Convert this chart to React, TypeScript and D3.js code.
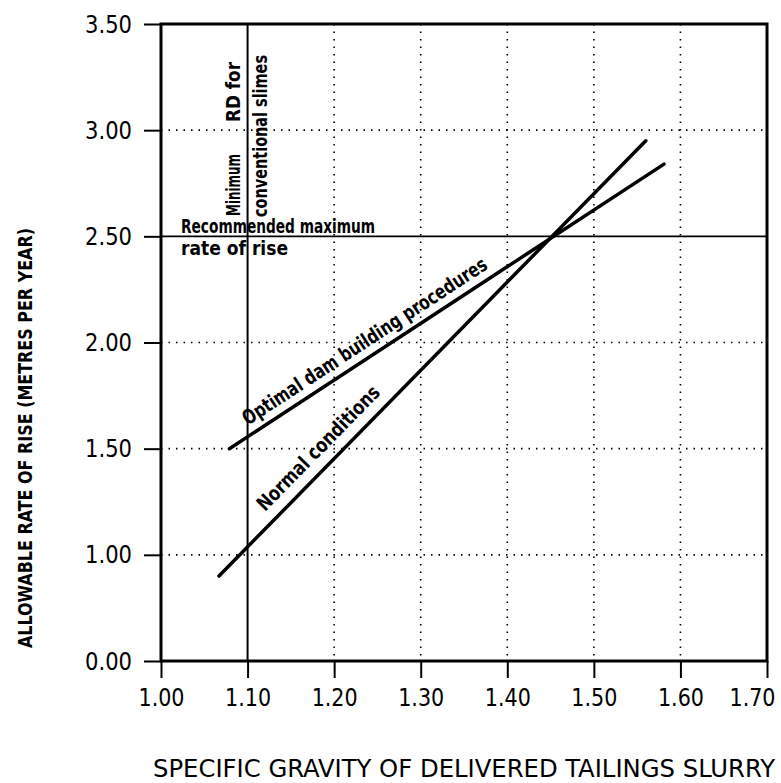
import { useEffect, useRef } from 'react'
import * as d3 from 'd3'

// axis ticks
const xTicks = [1.0, 1.1, 1.2, 1.3, 1.4, 1.5, 1.6, 1.7]
const yTicks = [0.0, 1.0, 1.5, 2.0, 2.5, 3.0, 3.5]
const xGrid = [1.2, 1.3, 1.4, 1.5, 1.6]
const yGrid = [1.0, 1.5, 2.0, 3.0]

// curves (specific gravity vs allowable rate of rise)
const normalX = [1.067, 1.56]
const normalY = [0.8, 2.95]
const optimalX = [1.079, 1.581]
const optimalY = [1.5, 2.84]

const minimumRD = 1.1
const maxRise = 2.5

const FONT = "'DejaVu Sans Condensed', 'DejaVu Sans', sans-serif"

function App() {
    const ref = useRef<SVGSVGElement>(null)

    useEffect(() => {
        const svg = d3.select(ref.current)
        svg.selectAll('*').remove()

        const left = 161
        const right = 767
        const top = 24
        const bottom = 661

        const xScale = d3.scaleLinear().domain([1.0, 1.7]).range([left, right])
        // broken axis: 0 -> 1 takes the same room as one 0.5 step
        const yScale = d3.scaleLinear().domain([0, 1, 3.5]).range([bottom, bottom - (bottom - top) / 6, top])

        const line = d3
            .line<[number, number]>()
            .x(d => xScale(d[0]))
            .y(d => yScale(d[1]))

        // dotted grid
        svg.append('g')
            .selectAll('line')
            .data(yGrid)
            .enter()
            .append('line')
            .attr('x1', left)
            .attr('x2', right)
            .attr('y1', d => yScale(d))
            .attr('y2', d => yScale(d))
            .style('stroke', '#000')
            .style('stroke-width', 1.6)
            .style('stroke-dasharray', '1.5 6')

        svg.append('g')
            .selectAll('line')
            .data(xGrid)
            .enter()
            .append('line')
            .attr('x1', d => xScale(d))
            .attr('x2', d => xScale(d))
            .attr('y1', top)
            .attr('y2', bottom)
            .style('stroke', '#000')
            .style('stroke-width', 1.6)
            .style('stroke-dasharray', '1.5 6')

        // reference lines
        svg.append('line')
            .attr('x1', xScale(minimumRD))
            .attr('x2', xScale(minimumRD))
            .attr('y1', top)
            .attr('y2', bottom)
            .style('stroke', '#000')
            .style('stroke-width', 2)

        svg.append('line')
            .attr('x1', left)
            .attr('x2', right)
            .attr('y1', yScale(maxRise))
            .attr('y2', yScale(maxRise))
            .style('stroke', '#000')
            .style('stroke-width', 1.6)

        // frame
        svg.append('rect')
            .attr('x', left)
            .attr('y', top)
            .attr('width', right - left)
            .attr('height', bottom - top)
            .style('fill', 'none')
            .style('stroke', '#000')
            .style('stroke-width', 3)

        // axes
        const xAxis = svg.append('g')
            .attr('transform', `translate(0, ${bottom})`)
            .call(d3.axisBottom(xScale).tickValues(xTicks).tickSize(17).tickPadding(10).tickFormat(d => d3.format('.2f')(d as number)))
        xAxis.select('.domain').remove()
        xAxis.selectAll('line').style('stroke-width', 2)
        xAxis.selectAll('text')
            .attr('fill', '#000')
            .attr('textLength', 46)
            .attr('lengthAdjust', 'spacingAndGlyphs')
            .style('font-family', FONT)
            .style('font-size', '25px')
        xAxis.selectAll<SVGTextElement, number>('text')
            .filter(d => d === 1.7)
            .attr('dx', -15)

        const yAxis = svg.append('g')
            .attr('transform', `translate(${left}, 0)`)
            .call(d3.axisLeft(yScale).tickValues(yTicks).tickSize(17).tickPadding(12).tickFormat(d => d3.format('.2f')(d as number)))
        yAxis.select('.domain').remove()
        yAxis.selectAll('line').style('stroke-width', 2)
        yAxis.selectAll('text')
            .attr('fill', '#000')
            .attr('textLength', 47)
            .attr('lengthAdjust', 'spacingAndGlyphs')
            .style('font-family', FONT)
            .style('font-size', '25px')

        // curves
        const curves = [
            normalX.map((x, i) => [x, normalY[i]] as [number, number]),
            optimalX.map((x, i) => [x, optimalY[i]] as [number, number]),
        ]
        curves.forEach(c => {
            svg.append('path')
                .datum(c)
                .attr('d', line)
                .style('fill', 'none')
                .style('stroke', '#000')
                .style('stroke-width', 3.5)
                .style('stroke-linecap', 'round')
        })

        // labels along the curves
        const labelOnLine = (xs: number[], ys: number[], at: number, offset: number, text: string, len: number) => {
            const x0 = xScale(xs[0]), y0 = yScale(ys[0])
            const x1 = xScale(xs[1]), y1 = yScale(ys[1])
            const angle = Math.atan2(y1 - y0, x1 - x0) * 180 / Math.PI
            const px = xScale(at)
            const py = y0 + (y1 - y0) * (px - x0) / (x1 - x0)
            svg.append('text')
                .attr('transform', `translate(${px}, ${py}) rotate(${angle})`)
                .attr('y', -offset)
                .attr('textLength', len)
                .attr('lengthAdjust', 'spacingAndGlyphs')
                .style('font-family', FONT)
                .style('font-weight', 'bold')
                .style('font-size', '20px')
                .text(text)
        }
        labelOnLine(optimalX, optimalY, 1.106, 9, 'Optimal dam building procedures', 288)
        labelOnLine(normalX, normalY, 1.13, 12, 'Normal conditions', 166)

        // annotations
        const note = (x: number, y: number, text: string, len: number, rotate = false) => {
            svg.append('text')
                .attr('transform', rotate ? `translate(${x}, ${y}) rotate(-90)` : `translate(${x}, ${y})`)
                .attr('textLength', len)
                .attr('lengthAdjust', 'spacingAndGlyphs')
                .style('font-family', FONT)
                .style('font-weight', 'bold')
                .style('font-size', '20px')
                .text(text)
        }
        note(181, yScale(maxRise) - 3, 'Recommended maximum', 194)
        note(181, yScale(maxRise) + 19, 'rate of rise', 107)
        note(xScale(minimumRD) - 8, 216, 'Minimum', 62, true)
        note(xScale(minimumRD) - 8, 122, 'RD for', 60, true)
        note(xScale(minimumRD) + 19, 217, 'conventional slimes', 162, true)

        // axis titles
        svg.append('text')
            .attr('x', 153)
            .attr('y', 777)
            .attr('textLength', 622)
            .attr('lengthAdjust', 'spacingAndGlyphs')
            .style('font-family', FONT)
            .style('font-size', '25px')
            .text('SPECIFIC GRAVITY OF DELIVERED TAILINGS SLURRY')

        svg.append('text')
            .attr('transform', 'translate(32, 438) rotate(-90)')
            .attr('text-anchor', 'middle')
            .attr('textLength', 420)
            .attr('lengthAdjust', 'spacingAndGlyphs')
            .style('font-family', FONT)
            .style('font-weight', 'bold')
            .style('font-size', '19px')
            .text('ALLOWABLE RATE OF RISE (METRES PER YEAR)')
    })

    return (
        <svg
            ref={ref}
            width={781}
            height={783}
            style={{ position: 'absolute', left: 0, top: 0, background: '#fff' }}
        />
    )
}

export default App
